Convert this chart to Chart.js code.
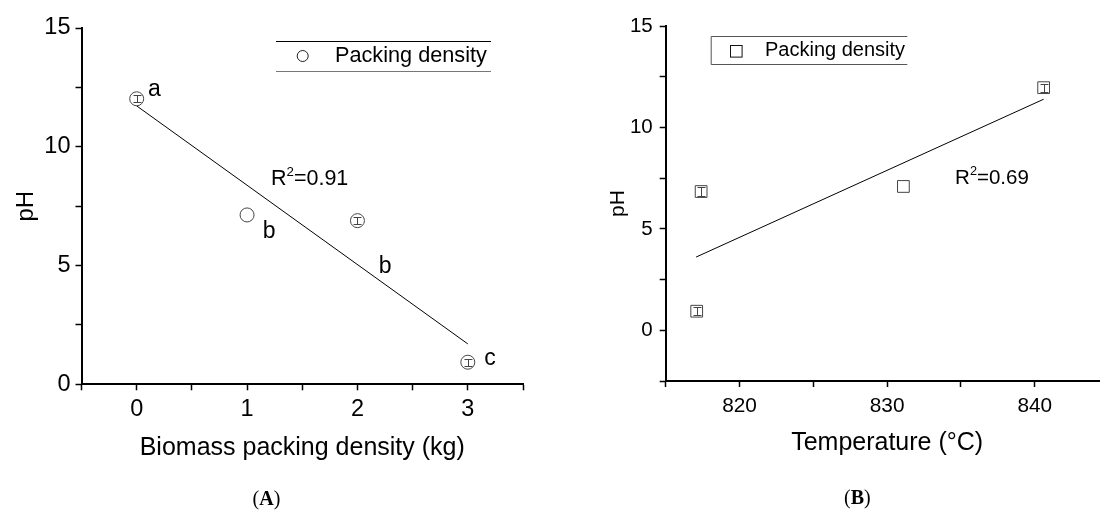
<!DOCTYPE html>
<html><head><meta charset="utf-8">
<script src="https://cdn.jsdelivr.net/npm/chart.js@4.4.1/dist/chart.umd.min.js"></script>
<style>
html,body{margin:0;padding:0;background:#fff;overflow:hidden;width:1100px;height:510px;position:relative;}
#a{position:absolute;left:0;top:0;}
#b{position:absolute;left:550px;top:0;}
</style></head><body>
<canvas id="a" width="550" height="510"></canvas>
<canvas id="b" width="570" height="510"></canvas>
<script>
// ---------- Panel A data ----------
const densityKg = [0, 1, 2, 3];
const phA = [12.02, 7.13, 6.89, 0.93];
const errA = [0.15, 0, 0.15, 0.15];
const fitAX = [0, 3];
const fitAY = [11.72, 1.70];
const lettersA = ['a', 'b', 'b', 'c'];
const xTicksA = [0, 1, 2, 3];
const yTicksA = [0, 5, 10, 15];
// ---------- Panel B data ----------
const tempC = [817.1, 817.4, 831.1, 840.6];
const phB = [0.94, 6.84, 7.09, 11.96];
const errB = [0.2, 0.2, 0, 0.2];
const fitBX = [817.06, 840.6];
const fitBY = [3.61, 11.39];
const xTicksB = [820, 830, 840];
const yTicksB = [0, 5, 10, 15];

const SANS = '"Liberation Sans", Arial, Helvetica, sans-serif';
const SERIF = '"Liberation Serif", "Times New Roman", serif';
const f = (size, weight, fam) => `${weight || 'normal'} ${size}px ${fam || SANS}`;

function drawRich(ctx, parts, cx, cy, size) {
  let total = 0;
  const widths = parts.map(p => {
    ctx.font = f(p.sup ? size * 0.62 : size);
    const w = ctx.measureText(p.t).width; total += w; return w;
  });
  let x = cx - total / 2;
  ctx.textAlign = 'left';
  ctx.textBaseline = 'middle';
  parts.forEach((p, i) => {
    ctx.font = f(p.sup ? size * 0.62 : size);
    ctx.fillText(p.t, x, p.sup ? cy - size * 0.32 : cy);
    x += widths[i];
  });
}

const decor = {
  id: 'decor',
  afterDatasetsDraw(chart, args, opts) {
    const ctx = chart.ctx;
    const xs = chart.scales.x, ys = chart.scales.y;
    ctx.save();
    // error bars
    chart.data.datasets.forEach(ds => {
      if (!ds.err) return;
      ctx.strokeStyle = ds.borderColor; ctx.lineWidth = 1;
      ds.data.forEach((p, j) => {
        const e = ds.err[j]; if (!e) return;
        const px = Math.round(xs.getPixelForValue(p.x)) + 0.5;
        const y1 = Math.round(ys.getPixelForValue(p.y - e)) + 0.5;
        const y2 = Math.round(ys.getPixelForValue(p.y + e)) + 0.5;
        ctx.beginPath();
        ctx.moveTo(px, y1); ctx.lineTo(px, y2);
        ctx.moveTo(px - 4, y1); ctx.lineTo(px + 4, y1);
        ctx.moveTo(px - 4, y2); ctx.lineTo(px + 4, y2);
        ctx.stroke();
      });
    });
    ctx.fillStyle = '#000';
    (opts.notes || []).forEach(n => {
      const px = xs.getPixelForValue(n.x), py = ys.getPixelForValue(n.y);
      drawRich(ctx, n.parts, px, py, n.size);
    });
    const L = opts.legend;
    if (L) {
      ctx.lineWidth = 1;
      if (L.style === 'lines') {
        ctx.strokeStyle = '#000';
        ctx.beginPath(); ctx.moveTo(L.x0, L.y0 + 0.5); ctx.lineTo(L.x1, L.y0 + 0.5); ctx.stroke();
        ctx.strokeStyle = '#777';
        ctx.beginPath(); ctx.moveTo(L.x0, L.y1 + 0.5); ctx.lineTo(L.x1, L.y1 + 0.5); ctx.stroke();
        ctx.strokeStyle = '#222';
        ctx.beginPath(); ctx.arc(L.mx, L.my, L.ms, 0, Math.PI * 2); ctx.stroke();
      } else {
        ctx.strokeStyle = '#555';
        ctx.beginPath(); ctx.moveTo(L.x1, L.y0 + 0.5); ctx.lineTo(L.x0 + 0.5, L.y0 + 0.5);
        ctx.lineTo(L.x0 + 0.5, L.y1 + 0.5); ctx.lineTo(L.x1, L.y1 + 0.5); ctx.stroke();
        ctx.strokeStyle = '#111';
        ctx.strokeRect(Math.round(L.mx - L.ms) + 0.5, Math.round(L.my - L.ms) + 0.5, L.ms * 2, L.ms * 2);
      }
      ctx.fillStyle = '#000';
      ctx.font = f(L.size);
      ctx.textAlign = 'left'; ctx.textBaseline = 'middle';
      ctx.fillText(L.text, L.tx, L.my);
    }
    const P = opts.panel;
    if (P) {
      ctx.textBaseline = 'middle';
      ctx.font = f(P.size, 'normal', SERIF);
      const w1 = ctx.measureText('(').width;
      ctx.font = f(P.size, 'bold', SERIF);
      const w2 = ctx.measureText(P.letter).width;
      const total = w1 * 2 + w2;
      let x = P.x - total / 2;
      ctx.textAlign = 'left';
      ctx.font = f(P.size, 'normal', SERIF); ctx.fillText('(', x, P.y); x += w1;
      ctx.font = f(P.size, 'bold', SERIF); ctx.fillText(P.letter, x, P.y); x += w2;
      ctx.font = f(P.size, 'normal', SERIF); ctx.fillText(')', x, P.y);
    }
    ctx.restore();
  }
};

function axis(o) {
  return {
    type: 'linear', min: o.min, max: o.max,
    afterFit: o.fit,
    border: { color: '#000', width: 2 },
    grid: { drawOnChartArea: false, drawTicks: true, tickLength: 6, tickColor: '#000', tickWidth: 1.5 },
    ticks: { stepSize: o.step, autoSkip: false, maxRotation: 0, padding: o.pad, color: '#000',
      font: { family: SANS, size: o.tsize }, callback: v => o.labels.includes(v) ? String(v) : '' },
    title: { display: true, text: o.title, color: '#000',
      font: { family: SANS, size: o.titleSize, lineHeight: 1.2 }, padding: o.titlePad }
  };
}

// ---------- Chart A ----------
new Chart(document.getElementById('a'), {
  type: 'scatter',
  data: { datasets: [
    { label: 'Packing density', data: densityKg.map((x, i) => ({ x, y: phA[i] })), err: errA,
      pointStyle: 'circle', pointRadius: 7, pointHoverRadius: 7, borderColor: '#444', borderWidth: 1,
      backgroundColor: 'rgba(0,0,0,0)' },
    { label: 'fit', data: fitAX.map((x, i) => ({ x, y: fitAY[i] })), showLine: true,
      borderColor: '#000', borderWidth: 1, pointRadius: 0, fill: false }
  ]},
  options: {
    responsive: false, animation: false, events: [],
    layout: { padding: { left: 0, top: 28, right: 27, bottom: 0 } },
    plugins: {
      legend: { display: false }, tooltip: { enabled: false },
      decor: {
        notes: [
          { x: 0.16, y: 12.4, parts: [{ t: lettersA[0] }], size: 23 },
          { x: 1.2, y: 6.43, parts: [{ t: lettersA[1] }], size: 23 },
          { x: 2.25, y: 4.96, parts: [{ t: lettersA[2] }], size: 23 },
          { x: 3.2, y: 1.1, parts: [{ t: lettersA[3] }], size: 23 },
          { x: 1.567, y: 8.64, parts: [{ t: 'R' }, { t: '2', sup: true }, { t: '=0.91' }], size: 21.5 }
        ],
        legend: { style: 'lines', x0: 276, x1: 491, y0: 41, y1: 71, mx: 302.7, my: 56, ms: 5.5,
          tx: 335, text: 'Packing density', size: 21.7 },
        panel: { letter: 'A', x: 266.5, y: 500, size: 20 }
      }
    },
    scales: {
      x: axis({ min: -0.5, max: 3.5, step: 0.5, labels: xTicksA, pad: 5, tsize: 23.5,
        title: 'Biomass packing density (kg)', titleSize: 25, titlePad: { top: 0, bottom: 47 },
        fit: s => { s.height = 125.7; } }),
      y: axis({ min: 0, max: 15, step: 2.5, labels: yTicksA, pad: 5, tsize: 23.5,
        title: 'pH', titleSize: 24, titlePad: { top: 11.6, bottom: 0 },
        fit: s => { s.width = 81.5; } })
    }
  },
  plugins: [decor]
});

// ---------- Chart B ----------
new Chart(document.getElementById('b'), {
  type: 'scatter',
  data: { datasets: [
    { label: 'Packing density', data: tempC.map((x, i) => ({ x, y: phB[i] })), err: errB,
      pointStyle: 'rect', pointRadius: 8.3, pointHoverRadius: 8.3, borderColor: '#444', borderWidth: 1,
      backgroundColor: 'rgba(0,0,0,0)' },
    { label: 'fit', data: fitBX.map((x, i) => ({ x, y: fitBY[i] })), showLine: true,
      borderColor: '#000', borderWidth: 1, pointRadius: 0, fill: false }
  ]},
  options: {
    responsive: false, animation: false, events: [],
    layout: { padding: { left: 0, top: 26, right: 11.4, bottom: 0 } },
    plugins: {
      legend: { display: false }, tooltip: { enabled: false },
      decor: {
        notes: [
          { x: 837.1, y: 7.5, parts: [{ t: 'R' }, { t: '2', sup: true }, { t: '=0.69' }], size: 20.5 }
        ],
        legend: { style: 'box', x0: 160.7, x1: 357.3, y0: 36, y1: 64, mx: 186, my: 50.7, ms: 5.8,
          tx: 215, text: 'Packing density', size: 20 },
        panel: { letter: 'B', x: 307.3, y: 499, size: 20 }
      }
    },
    scales: {
      x: axis({ min: 815, max: 845, step: 5, labels: xTicksB, pad: 7, tsize: 20.8,
        title: 'Temperature (°C)', titleSize: 25, titlePad: { top: 0, bottom: 52 },
        fit: s => { s.height = 129; } }),
      y: axis({ min: -2.5, max: 15, step: 2.5, labels: yTicksB, pad: 7, tsize: 20.5,
        title: 'pH', titleSize: 21, titlePad: { top: 55.7, bottom: 0 },
        fit: s => { s.width = 115.7; } })
    }
  },
  plugins: [decor]
});
</script>
</body></html>
